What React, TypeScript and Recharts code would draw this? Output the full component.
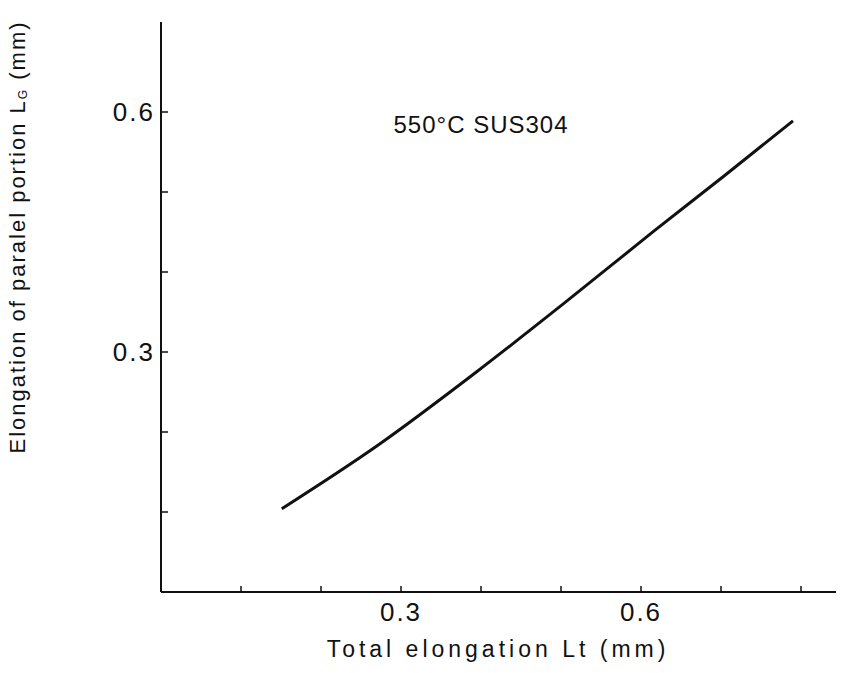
import { LineChart, Line, XAxis, YAxis, ReferenceDot } from "recharts";

// values (mm)
const totalElongation = [0.151, 0.272, 0.393, 0.504, 0.616, 0.705, 0.79];
const parallelElongation = [0.104, 0.184, 0.274, 0.361, 0.451, 0.521, 0.589];

const xTicks = [0.1, 0.2, 0.3, 0.4, 0.5, 0.6, 0.7, 0.8];
const yTicks = [0.1, 0.2, 0.3, 0.4, 0.5, 0.6];
const labelledTicks = [0.3, 0.6];

const annotation = { lt: 0.4, lg: 0.585, text: "550°C SUS304" };

const data = totalElongation.map((lt, i) => ({ lt, lg: parallelElongation[i] }));

const FONT = "'Liberation Sans Narrow', 'Liberation Sans', Arial, sans-serif";
const INK = "#111";

const XTick = ({ x, y, payload }: any) => (
  <g>
    <line x1={x} y1={y} x2={x} y2={y - 6} stroke={INK} strokeWidth={1.5} />
    {labelledTicks.includes(payload.value) && (
      <text x={x} y={y + 29} textAnchor="middle" fontSize={26} fill={INK} letterSpacing={2}>
        {payload.value.toFixed(1)}
      </text>
    )}
  </g>
);

const YTick = ({ x, y, payload }: any) => (
  <g>
    <line x1={x} y1={y} x2={x + 7} y2={y} stroke={INK} strokeWidth={1.5} />
    {labelledTicks.includes(payload.value) && (
      <text x={x - 6} y={y + 9} textAnchor="end" fontSize={26} fill={INK} letterSpacing={2}>
        {payload.value.toFixed(1)}
      </text>
    )}
  </g>
);

export default function App() {
  return (
    <div style={{ margin: -8, width: 845, height: 673, background: "#fff" }}>
      <LineChart
        width={845}
        height={673}
        data={data}
        margin={{ top: 22, right: 9, bottom: 0, left: 0 }}
        style={{ fontFamily: FONT }}
      >
        <XAxis
          type="number"
          dataKey="lt"
          domain={[0, 0.84375]}
          ticks={xTicks}
          tick={<XTick />}
          tickLine={false}
          tickSize={0}
          tickMargin={0}
          height={81}
          axisLine={{ stroke: INK, strokeWidth: 2 }}
          label={{
            content: () => (
              <text x={498} y={657} textAnchor="middle" fontSize={23} fill={INK} letterSpacing={4}>
                Total elongation Lt{"  "}(mm)
              </text>
            ),
          }}
        />
        <YAxis
          type="number"
          dataKey="lg"
          domain={[0, 0.7125]}
          ticks={yTicks}
          tick={<YTick />}
          tickLine={false}
          tickSize={0}
          tickMargin={0}
          width={161}
          axisLine={{ stroke: INK, strokeWidth: 2 }}
          label={{
            content: () => (
              <text
                x={25}
                y={237}
                transform="rotate(-90, 25, 237)"
                textAnchor="middle"
                fontSize={22}
                fill={INK}
                letterSpacing={2}
              >
                Elongation of paralel portion L
                <tspan fontSize={12} dy={2}>G</tspan>
                <tspan dy={-2}>{"  "}(mm)</tspan>
              </text>
            ),
          }}
        />
        <ReferenceDot
          x={annotation.lt}
          y={annotation.lg}
          r={0}
          fill="none"
          stroke="none"
          label={{ value: annotation.text, position: "center", fontSize: 24, fill: INK, letterSpacing: 1 }}
        />
        <Line
          type="monotone"
          dataKey="lg"
          stroke={INK}
          strokeWidth={3}
          dot={false}
          isAnimationActive={false}
        />
      </LineChart>
    </div>
  );
}
